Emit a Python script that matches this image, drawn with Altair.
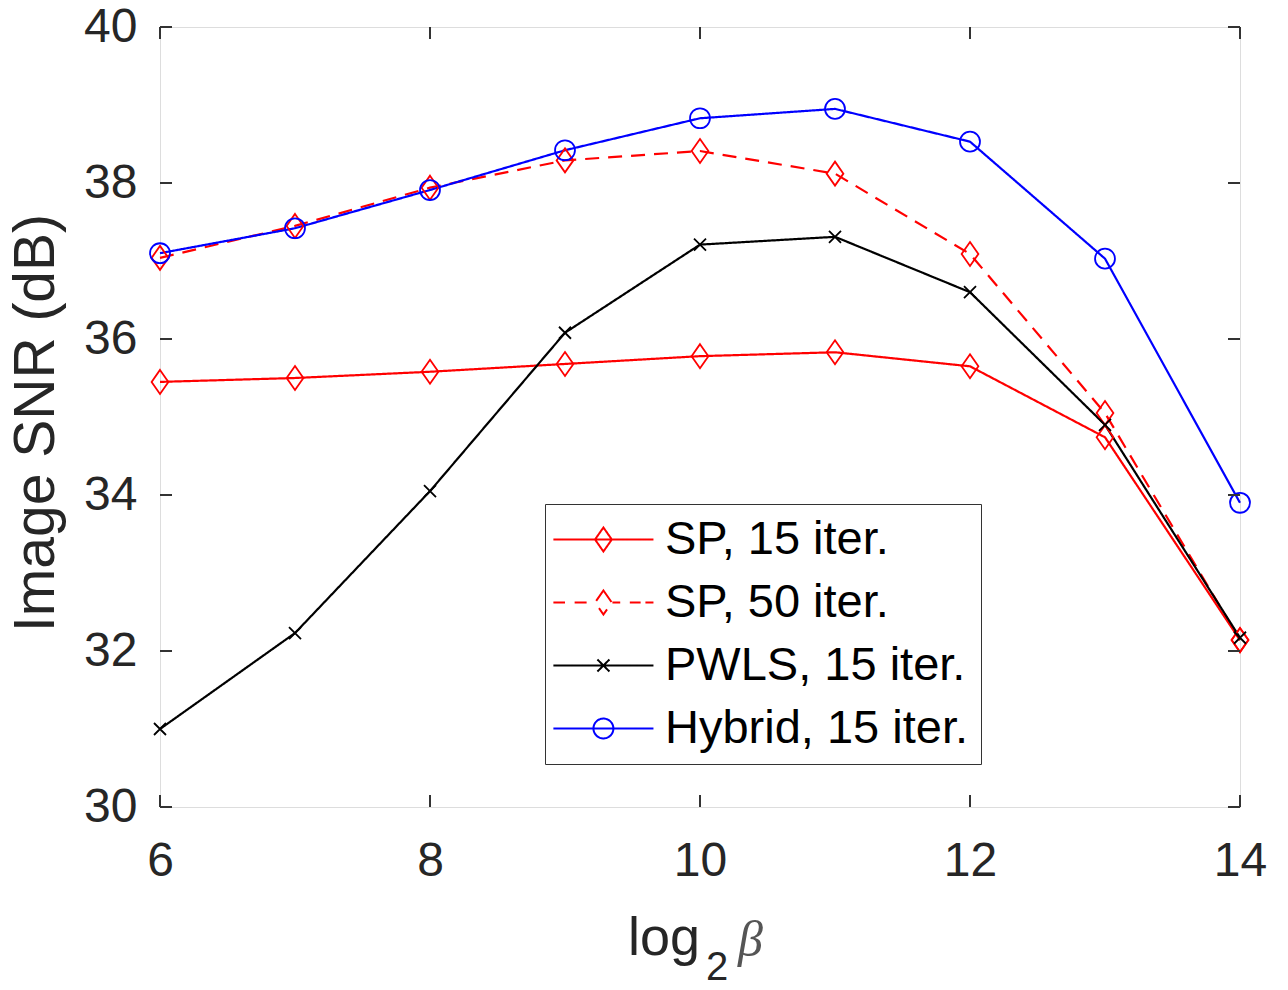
import altair as alt
import pandas as pd

# ---- data ----
x_vals = [6, 7, 8, 9, 10, 11, 12, 13, 14]
sp15 = [35.45, 35.50, 35.58, 35.68, 35.78, 35.83, 35.65, 34.74, 32.14]
sp50 = [37.04, 37.45, 37.94, 38.29, 38.41, 38.12, 37.09, 35.05, 32.14]
pwls = [31.00, 32.23, 34.05, 36.08, 37.21, 37.31, 36.60, 34.90, 32.17]
hybrid = [37.10, 37.42, 37.91, 38.42, 38.83, 38.95, 38.53, 37.03, 33.90]

series_names = ["SP, 15 iter.", "SP, 50 iter.", "PWLS, 15 iter.", "Hybrid, 15 iter."]
series_colors = ["#ff0000", "#ff0000", "#000000", "#0000ff"]
x_ticks = [6, 8, 10, 12, 14]
y_ticks = [30, 32, 34, 36, 38, 40]
y_title = "Image SNR (dB)"
x_title_parts = ["log", "2", "\u03b2"]

rows = []
for name, vals in zip(series_names, [sp15, sp50, pwls, hybrid]):
    for xv, yv in zip(x_vals, vals):
        rows.append({"beta": xv, "snr": yv, "series": name})
df = pd.DataFrame(rows)

W, H = 1080, 780
FONT = "Liberation Sans"

xscale = alt.Scale(domain=[6, 14], nice=False, zero=False)
yscale = alt.Scale(domain=[30, 40], nice=False, zero=False)
cscale = alt.Scale(domain=series_names, range=series_colors)

xaxis = alt.Axis(values=x_ticks, ticks=False, tickSize=0, domain=False, grid=False, title=None,
                 labelFont=FONT, labelFontSize=48, labelColor="#262626", labelPadding=30,
                 labelFlush=False)
yaxis = alt.Axis(values=y_ticks, ticks=False, tickSize=0, domain=False, grid=False, title=None,
                 labelFont=FONT, labelFontSize=48, labelColor="#262626", labelPadding=23)

# legend symbols: line sample + marker, offset right inside the symbol box
O = 1.91  # shift in symbol units
def seg(a, b):
    return "M%.2f,0H%.2f" % (a + O, b + O)
diamond = "M%.2f,-1L%.2f,0L%.2f,1L%.2f,0Z" % (O, O + 0.7, O, O - 0.7)
xmark = "M%.2f,-0.5L%.2f,0.5M%.2f,0.5L%.2f,-0.5" % (O - 0.5, O + 0.5, O - 0.5, O + 0.5)
circ = "M%.2f,0A0.83,0.83,0,1,0,%.2f,0A0.83,0.83,0,1,0,%.2f,0Z" % (O - 0.83, O + 0.83, O - 0.83)
legend_paths = [
    seg(-4.17, 4.17) + diamond,
    seg(-4.17, -3.2) + seg(-2.4, -1.4) + seg(0.75, 1.4) + seg(2.2, 3.1) + seg(3.5, 4.17) + diamond,
    seg(-4.17, 4.17) + xmark,
    seg(-4.17, 4.17) + circ,
]
leg = alt.Legend(
    title=None, orient="none", legendX=385, legendY=477,
    labelFont=FONT, labelFontSize=47, labelColor="#000000", labelLimit=600,
    symbolSize=576, symbolStrokeWidth=2, symbolOpacity=1, symbolFillColor="transparent",
    labelOffset=61, rowPadding=15,
    padding=12, strokeColor="#333333", fillColor="#ffffff")

base = alt.Chart(df)

lines = base.mark_line(strokeWidth=2.2).encode(
    x=alt.X("beta:Q", scale=xscale, axis=xaxis),
    y=alt.Y("snr:Q", scale=yscale, axis=yaxis),
    color=alt.Color("series:N", scale=cscale, legend=leg),
    strokeDash=alt.StrokeDash("series:N", scale=alt.Scale(domain=series_names,
                              range=[[1, 0], [14, 9], [1, 0], [1, 0]]), legend=None),
    detail="series:N",
)

marker_paths = [
    "M0,-1L0.7,0L0,1L-0.7,0Z",
    "M0,-1L0.7,0L0,1L-0.7,0Z",
    "M-0.5,-0.5L0.5,0.5M-0.5,0.5L0.5,-0.5",
    "M-0.83,0A0.83,0.83,0,1,0,0.83,0A0.83,0.83,0,1,0,-0.83,0Z",
]
point_layers = []
for name, col, path in zip(series_names, series_colors, marker_paths):
    point_layers.append(
        base.transform_filter(alt.datum.series == name)
        .mark_point(filled=False, size=576, strokeWidth=1.8, opacity=1, color=col, shape=path)
        .encode(x=alt.X("beta:Q", scale=xscale, axis=xaxis),
                y=alt.Y("snr:Q", scale=yscale, axis=yaxis))
    )

# legend-only layer: no rows drawn, entries come from the explicit scale domains
legend_layer = base.transform_filter(alt.datum.beta < 0).mark_point(filled=False, size=576).encode(
    x=alt.X("beta:Q", scale=xscale, axis=xaxis),
    y=alt.Y("snr:Q", scale=yscale, axis=yaxis),
    color=alt.Color("series:N", scale=cscale, legend=leg),
    shape=alt.Shape("series:N", scale=alt.Scale(domain=series_names, range=legend_paths), legend=leg),
)

# inward ticks on all four sides
xt = alt.Chart(pd.DataFrame({"beta": x_ticks}))
yt = alt.Chart(pd.DataFrame({"snr": y_ticks}))
tick_color = "#333333"
tb = xt.mark_rule(color=tick_color, strokeWidth=2).encode(
    x=alt.X("beta:Q", scale=xscale, axis=xaxis), y=alt.value(H), y2=alt.value(H - 12))
tt = xt.mark_rule(color=tick_color, strokeWidth=2).encode(
    x=alt.X("beta:Q", scale=xscale, axis=xaxis), y=alt.value(0), y2=alt.value(12))
tl = yt.mark_rule(color=tick_color, strokeWidth=2).encode(
    y=alt.Y("snr:Q", scale=yscale, axis=yaxis), x=alt.value(0), x2=alt.value(12))
tr = yt.mark_rule(color=tick_color, strokeWidth=2).encode(
    y=alt.Y("snr:Q", scale=yscale, axis=yaxis), x=alt.value(W), x2=alt.value(W - 12))

# axis titles
ytitle = alt.Chart(pd.DataFrame({"t": [y_title]})).mark_text(
    font=FONT, fontSize=57, angle=270, align="center", baseline="alphabetic", color="#262626"
).encode(text="t:N", x=alt.value(-106), y=alt.value(396))
xt1 = alt.Chart(pd.DataFrame({"t": [x_title_parts[0]]})).mark_text(
    font=FONT, fontSize=54, align="left", baseline="alphabetic", color="#262626"
).encode(text="t:N", x=alt.value(468), y=alt.value(928))
xt2 = alt.Chart(pd.DataFrame({"t": [x_title_parts[1]]})).mark_text(
    font=FONT, fontSize=40, align="left", baseline="alphabetic", color="#262626"
).encode(text="t:N", x=alt.value(546), y=alt.value(953))
xt3 = alt.Chart(pd.DataFrame({"t": [x_title_parts[2]]})).mark_text(
    font="Liberation Serif", fontSize=50, fontStyle="italic", align="left", baseline="alphabetic",
    color="#555555"
).encode(text="t:N", x=alt.value(578), y=alt.value(929))

chart = alt.layer(
    lines, *point_layers, legend_layer, tb, tt, tl, tr, ytitle, xt1, xt2, xt3
).properties(
    width=W, height=H,
    autosize=alt.AutoSizeParams(type="none"),
    padding={"left": 152, "top": 19, "right": 40, "bottom": 175},
).configure_view(stroke="#666666", strokeWidth=2).configure(background="white")

chart.save("out.html", embed_options={"renderer": "svg", "actions": False})
